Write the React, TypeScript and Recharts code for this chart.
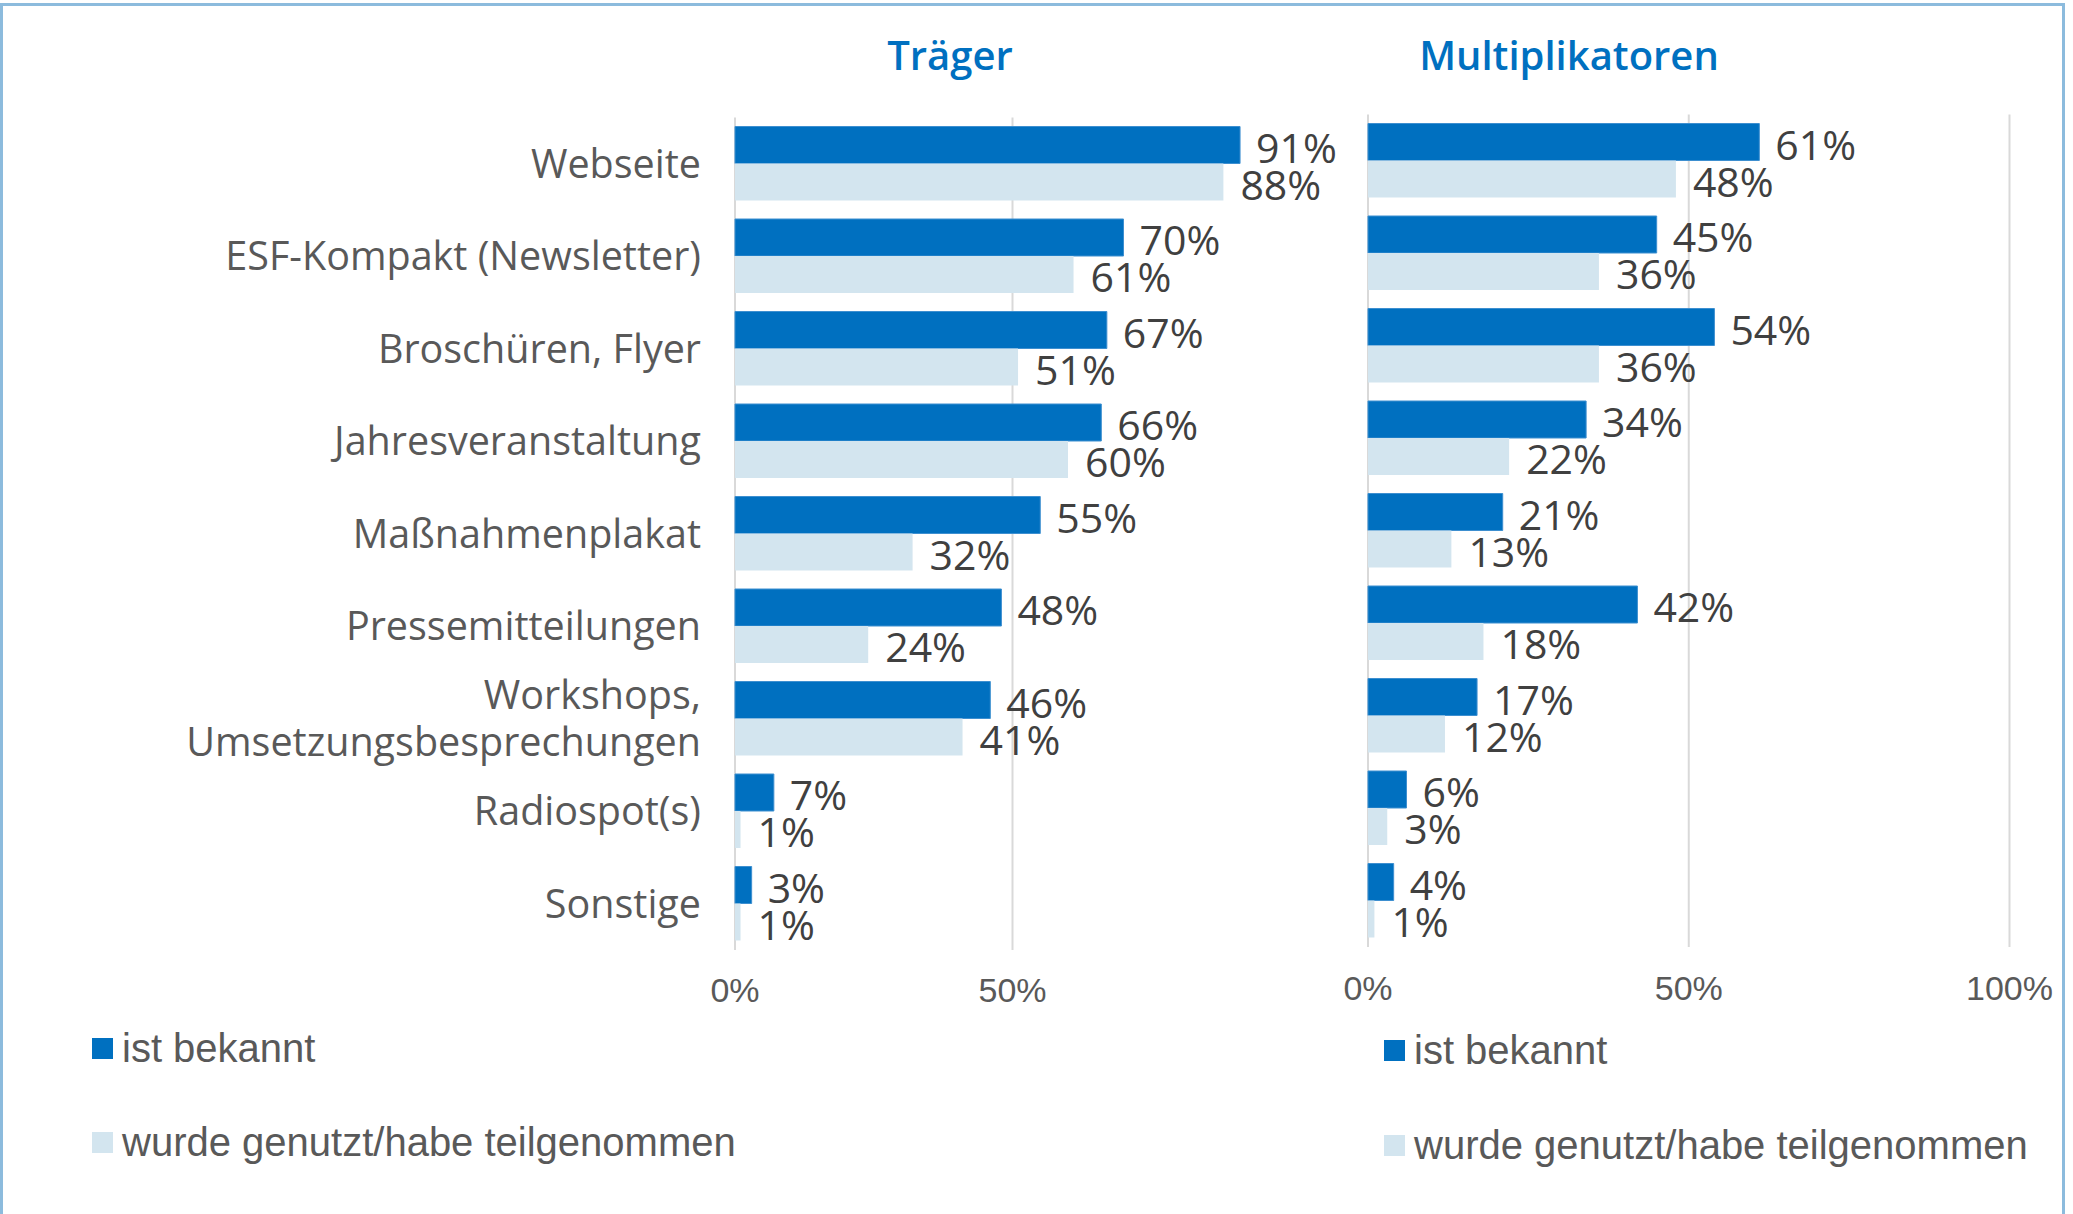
import React from "react";
import { BarChart, Bar, XAxis, YAxis, CartesianGrid, LabelList, Legend } from "recharts";

const categories = [
  "Webseite",
  "ESF-Kompakt (Newsletter)",
  "Broschüren, Flyer",
  "Jahresveranstaltung",
  "Maßnahmenplakat",
  "Pressemitteilungen",
  "Workshops,\nUmsetzungsbesprechungen",
  "Radiospot(s)",
  "Sonstige",
];

const traegerKnown = [91, 70, 67, 66, 55, 48, 46, 7, 3];
const traegerUsed = [88, 61, 51, 60, 32, 24, 41, 1, 1];
const multiKnown = [61, 45, 54, 34, 21, 42, 17, 6, 4];
const multiUsed = [48, 36, 36, 22, 13, 18, 12, 3, 1];

const xDomain = [0, 100];
const leftTicks = [0, 50];
const rightTicks = [0, 50, 100];

const seriesNames = ["ist bekannt", "wurde genutzt/habe teilgenommen"];
const titles = ["Träger", "Multiplikatoren"];

const DARK = "#0070C0";
const LIGHT = "#D3E5EF";
const W = 2073;
const H = 1214;

const traegerData = categories.map((name, i) => ({ name, known: traegerKnown[i], used: traegerUsed[i] }));
const multiData = categories.map((name, i) => ({ name, known: multiKnown[i], used: multiUsed[i] }));

const CategoryTick = (props: any) => {
  const { x, y, payload } = props;
  const lines = String(payload.value).split("\n");
  const lh = 47;
  const start = -((lines.length - 1) * lh) / 2;
  return (
    <text
      x={x}
      y={y}
      textAnchor="end"
      fill="#595959"
      fontFamily="'Open Sans', sans-serif"
      fontSize={39.5}
    >
      {lines.map((l, i) => (
        <tspan key={i} x={x} y={y + start + i * lh} dy="0.36em">
          {l}
        </tspan>
      ))}
    </text>
  );
};

const makeNumTick = (dy: number) => (props: any) => {
  const { x, y, payload } = props;
  return (
    <text
      x={x}
      y={y + dy}
      textAnchor="middle"
      fill="#595959"
      fontFamily="'Liberation Sans', Arial, sans-serif"
      fontSize={34}
    >
      {payload.value}%
    </text>
  );
};

// grid lines only at the given tick values (mapped through the chart's plot area)
const makeGrid = (ticks: number[]) => (p: any) => {
  try {
    const axis = p && p.xAxis;
    if (axis && typeof axis.scale === "function") return ticks.map((t) => axis.scale(t));
    if (axis && axis.scale && typeof axis.scale.map === "function") return ticks.map((t) => axis.scale.map(t));
  } catch (e) {}
  const off = (p && p.offset) || {};
  const left = off.left || 0;
  const width = off.width || 0;
  return ticks.map((t) => left + (width * (t - xDomain[0])) / (xDomain[1] - xDomain[0]));
};

const makeLegend = (gap: number) => (props: any) => {
  const payload = props.payload || [];
  return (
    <div style={{ fontFamily: "'Liberation Sans', Arial, sans-serif", fontSize: 40, color: "#595959" }}>
      {payload.map((p: any, i: number) => (
        <div
          key={i}
          style={{
            display: "flex",
            alignItems: "center",
            height: 48,
            marginTop: i === 0 ? 0 : gap,
            whiteSpace: "nowrap",
          }}
        >
          <span style={{ display: "inline-block", width: 21, height: 21, background: p.color, marginRight: 9 }} />
          <span style={{ lineHeight: "48px" }}>{p.value}</span>
        </div>
      ))}
    </div>
  );
};

const valueFmt = (v: any) => `${v}%`;

const labelStyle = {
  fill: "#404040",
  fontSize: 41,
  fontFamily: "'Open Sans', sans-serif",
};

const Title = ({ text, cx }: { text: string; cx: number }) => (
  <div
    style={{
      position: "absolute",
      left: cx - 250,
      width: 500,
      top: 26,
      lineHeight: "58px",
      textAlign: "center",
      fontFamily: "'Open Sans', sans-serif",
      fontWeight: 600,
      fontSize: 40,
      color: DARK,
    }}
  >
    {text}
  </div>
);

export default function App() {
  return (
    <div style={{ position: "relative", width: W, height: H, overflow: "hidden", background: "#fff" }}>
      <style>{`body{margin:0;overflow:hidden;}`}</style>
      <div
        style={{
          position: "absolute",
          left: 0,
          top: 3,
          width: 2065,
          height: 1300,
          border: "3px solid #8CBBDD",
          boxSizing: "border-box",
        }}
      />
      <Title text={titles[0]} cx={950} />
      <Title text={titles[1]} cx={1569} />

      <div style={{ position: "absolute", left: 0, top: 0 }}>
        <BarChart
          width={W}
          height={H}
          data={traegerData}
          layout="vertical"
          barGap={0}
          margin={{ top: 117.5, bottom: 234, left: 0, right: 783 }}
        >
          <CartesianGrid
            horizontal={false}
            stroke="#D9D9D9"
            strokeWidth={2}
            verticalCoordinatesGenerator={makeGrid(leftTicks)}
          />
          <XAxis
            type="number"
            domain={xDomain}
            ticks={leftTicks}
            axisLine={false}
            tickLine={false}
            tickSize={0}
            tickMargin={0}
            height={30}
            tick={makeNumTick(52)}
          />
          <YAxis
            type="category"
            dataKey="name"
            width={735}
            axisLine={false}
            tickLine={false}
            tickSize={0}
            tickMargin={34}
            tick={<CategoryTick />}
            interval={0}
          />
          <Legend
            layout="horizontal"
            verticalAlign="middle"
            align="center"
            wrapperStyle={{ left: 92, top: 1024, width: 700, height: 200 }}
            content={makeLegend(46)}
          />
          <Bar dataKey="known" name={seriesNames[0]} fill={DARK} stroke="#3D8FD0" strokeWidth={1} barSize={37} isAnimationActive={false}>
            <LabelList dataKey="known" position="right" offset={16} dy={3} formatter={valueFmt} style={labelStyle} />
          </Bar>
          <Bar dataKey="used" name={seriesNames[1]} fill={LIGHT} barSize={37} isAnimationActive={false}>
            <LabelList dataKey="used" position="right" offset={17} dy={3} formatter={valueFmt} style={labelStyle} />
          </Bar>
        </BarChart>
      </div>

      <div style={{ position: "absolute", left: 0, top: 0 }}>
        <BarChart
          width={W}
          height={H}
          data={multiData}
          layout="vertical"
          barGap={0}
          margin={{ top: 114.5, bottom: 237, left: 1368, right: 63.5 }}
        >
          <CartesianGrid
            horizontal={false}
            stroke="#D9D9D9"
            strokeWidth={2}
            verticalCoordinatesGenerator={makeGrid(rightTicks)}
          />
          <XAxis
            type="number"
            domain={xDomain}
            ticks={rightTicks}
            axisLine={false}
            tickLine={false}
            tickSize={0}
            tickMargin={0}
            height={30}
            tick={makeNumTick(53)}
          />
          <YAxis type="category" dataKey="name" hide />
          <Legend
            layout="horizontal"
            verticalAlign="middle"
            align="center"
            wrapperStyle={{ left: 1384, top: 1026, width: 680, height: 200 }}
            content={makeLegend(47)}
          />
          <Bar dataKey="known" name={seriesNames[0]} fill={DARK} stroke="#3D8FD0" strokeWidth={1} barSize={37} isAnimationActive={false}>
            <LabelList dataKey="known" position="right" offset={16} dy={3} formatter={valueFmt} style={labelStyle} />
          </Bar>
          <Bar dataKey="used" name={seriesNames[1]} fill={LIGHT} barSize={37} isAnimationActive={false}>
            <LabelList dataKey="used" position="right" offset={17} dy={3} formatter={valueFmt} style={labelStyle} />
          </Bar>
        </BarChart>
      </div>
    </div>
  );
}
